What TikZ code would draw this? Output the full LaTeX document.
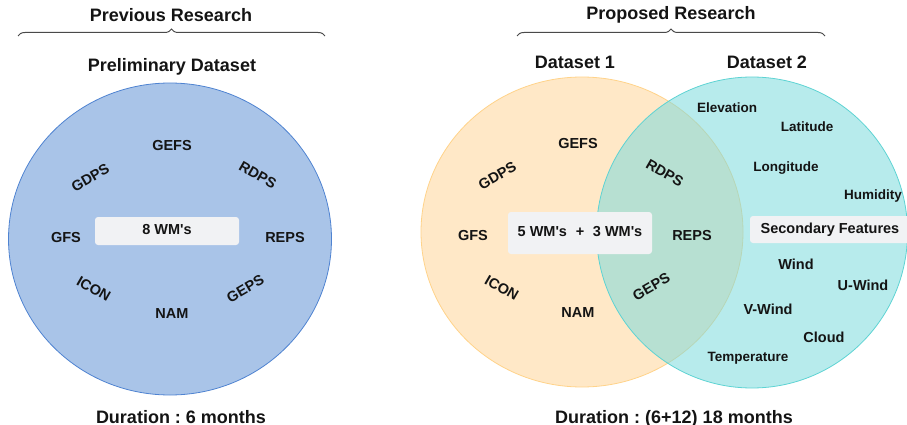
\documentclass[tikz,border=0pt]{standalone}
\usepackage{fontspec}
\setmainfont{Liberation Sans}
\frenchspacing
\usetikzlibrary{shapes.geometric,decorations.pathreplacing}
\definecolor{ink}{HTML}{141414}
\definecolor{blueFill}{HTML}{A9C4E8}
\definecolor{blueLine}{HTML}{4F83D1}
\definecolor{peachFill}{HTML}{FFE8C7}
\definecolor{peachLine}{HTML}{FFD38A}
\definecolor{cyanFill}{HTML}{7CDADC}
\definecolor{cyanLine}{HTML}{5DD3D3}
\definecolor{tagGrey}{HTML}{F1F2F4}
\definecolor{braceGrey}{HTML}{4A4A4A}
\begin{document}
\begin{tikzpicture}[x=1pt,y=-1pt,
  txt/.style={font=\bfseries\fontsize{14.5}{16}\selectfont, text=ink, inner sep=0pt,
              text height=0.72em, text depth=0pt},
  lbl/.style={txt, yshift=-2pt},
  feat/.style={lbl, font=\bfseries\fontsize{13.5}{15}\selectfont},
  head/.style={font=\bfseries\fontsize{18}{20}\selectfont, text=ink, inner sep=0pt, anchor=base},
  tag/.style={txt, fill=tagGrey, rounded corners=3pt},
  set/.style={ellipse, inner sep=0pt, line width=0.8pt},
  bracket/.style={draw=braceGrey, line width=1pt, decorate,
                  decoration={brace, amplitude=7pt}}
]
\useasboundingbox (0,0) rectangle (907,425);

% ---------- previous research ----------
\node[head] (prevTitle) at (171,22) {Previous Research};
\coordinate (prevL) at (18,36);
\coordinate (prevR) at (325,36);
\draw[bracket] (prevL) -- (prevR);
\node[head] (prelim) at (172,72) {Preliminary Dataset};

\node[set, draw=blueLine, fill=blueFill, minimum width=323pt, minimum height=312pt]
  (prevSet) at (170,239) {};

\node[lbl] (pGEFS) at (172,145) {GEFS};
\node[lbl, rotate=30] (pGDPS) at (91,177) {GDPS};
\node[lbl, rotate=-30] (pRDPS) at (257,174) {RDPS};
\node[lbl] (pGFS) at (66,237) {GFS};
\node[lbl] (pREPS) at (285,237) {REPS};
\node[lbl, rotate=-30] (pICON) at (93,288) {ICON};
\node[lbl, rotate=30] (pGEPS) at (246,288) {GEPS};
\node[lbl] (pNAM) at (172,313) {NAM};
\node[tag, minimum width=144pt, minimum height=28pt] (pCount) at (167,231)
  {8 WM\textquotesingle s};

\node[head] (prevDur) at (181,423) {Duration : 6 months};

% ---------- proposed research ----------
\node[head] (propTitle) at (671,20) {Proposed Research};
\coordinate (propL) at (517,36);
\coordinate (propR) at (825,36);
\draw[bracket] (propL) -- (propR);
\node[head] (ds1) at (575,68.5) {Dataset 1};
\node[head] (ds2) at (767,68.5) {Dataset 2};

\node[set, draw=peachLine, fill=peachFill, minimum width=322pt, minimum height=310pt]
  (setOne) at (582,232) {};
\node[set, draw=cyanLine, fill=cyanFill, fill opacity=0.55, minimum width=311pt, minimum height=311pt]
  (setTwo) at (752,232.5) {};

\node[lbl] (rGEFS) at (578,143) {GEFS};
\node[lbl, rotate=30] (rGDPS) at (498,175) {GDPS};
\node[lbl] (rGFS) at (473,235) {GFS};
\node[lbl, rotate=-30] (rICON) at (501,287) {ICON};
\node[lbl] (rNAM) at (578,312) {NAM};
\node[lbl, rotate=-30] (rRDPS) at (664,172) {RDPS};
\node[lbl] (rREPS) at (692,235) {REPS};
\node[lbl, rotate=30] (rGEPS) at (652,286) {GEPS};
\node[tag, minimum width=144pt, minimum height=42pt] (rCount) at (580,233)
  {5 WM\textquotesingle s\hspace{0.6em}+\hspace{0.6em}3 WM\textquotesingle s};

\node[feat] (fElev) at (727,107) {Elevation};
\node[feat] (fLat) at (807,126) {Latitude};
\node[feat] (fLon) at (786,166) {Longitude};
\node[feat] (fHum) at (873,194) {Humidity};
\node[tag, minimum width=160pt, minimum height=27pt] (fSec) at (830,229.5) {Secondary Features};
\node[lbl] (fWind) at (796,264) {Wind};
\node[lbl] (fU) at (863,285) {U-Wind};
\node[lbl] (fV) at (768,309) {V-Wind};
\node[lbl] (fCloud) at (824,337) {Cloud};
\node[feat] (fTemp) at (748,356) {Temperature};

\node[head] (propDur) at (674,423) {Duration : (6+12) 18 months};
\end{tikzpicture}
\end{document}
